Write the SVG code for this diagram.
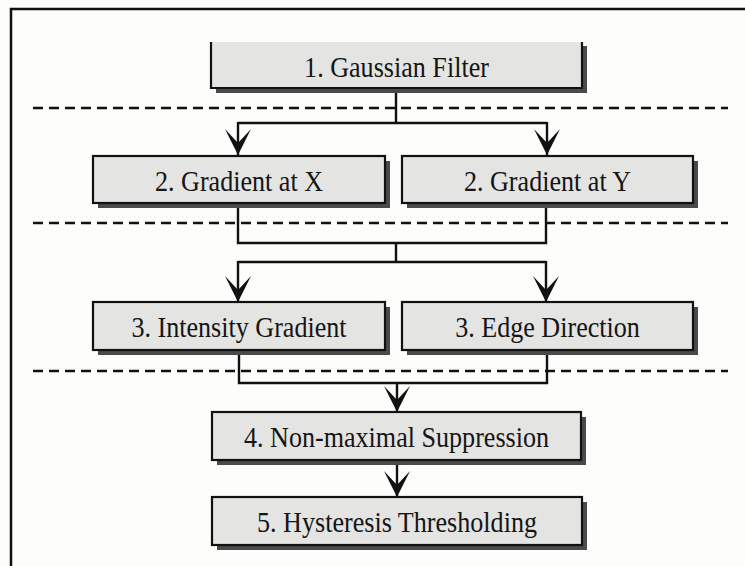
<svg xmlns="http://www.w3.org/2000/svg" width="745" height="566" viewBox="0 0 745 566">
  <style>
    .bg { fill: #fdfdfb; }
    .frame { fill: none; stroke: #111; stroke-width: 2.5; }
    .shadow { fill: #4a4a4a; }
    .box { fill: #e4e4e2; stroke: #111; stroke-width: 2.2; }
    .label { font-family: "Liberation Serif", "Times New Roman", serif; font-size: 29px; fill: #151515; text-anchor: middle; }
    .sep { fill: none; stroke: #111; stroke-width: 2.5; stroke-dasharray: 10 6; }
    .wire { fill: none; stroke: #111; stroke-width: 2.4; }
    .arrow { fill: none; stroke: #111; stroke-width: 2.4; marker-end: url(#head); }
  </style>
  <defs>
    <marker id="head" markerUnits="userSpaceOnUse" viewBox="-27 -15 28 30" markerWidth="28" markerHeight="30" refX="0" refY="0" orient="auto">
      <path d="M0,0 L-26,-13 L-12,0 L-26,13 Z" fill="#111"/>
    </marker>
  </defs>

  <rect class="bg" x="0" y="0" width="745" height="566"/>
  <!-- outer frame: top and left edges -->
  <path class="frame" d="M11,566 V9 H745"/>

  <!-- stage separators -->
  <g id="separators">
    <line class="sep" x1="33" y1="108" x2="728" y2="108"/>
    <line class="sep" x1="33" y1="223" x2="728" y2="223"/>
    <line class="sep" x1="33" y1="371" x2="728" y2="371"/>
  </g>

  <g id="connectors">
    <!-- filter to both gradients -->
    <path class="wire" d="M396,88 V123 M238,123 H547"/>
    <path class="arrow" d="M238,122 V155"/>
    <path class="arrow" d="M547,122 V155"/>
    <!-- gradients merge then split -->
    <path class="wire" d="M238,203 V243 H546 V203 M396,243 V262 M238,262 H546"/>
    <path class="arrow" d="M238,261 V302"/>
    <path class="arrow" d="M546,261 V302"/>
    <!-- magnitude and direction merge into suppression -->
    <path class="wire" d="M239,350 V383 H547 V350"/>
    <path class="arrow" d="M397,383 V412"/>
    <!-- suppression to thresholding -->
    <path class="arrow" d="M397,460 V497"/>
  </g>

  <g id="gaussian-filter">
    <rect class="shadow" x="216" y="46" width="371" height="47"/>
    <rect x="211" y="42" width="371" height="46" fill="#e4e4e2"/>
    <path d="M211,42 V88 H582 V42" fill="none" stroke="#111" stroke-width="2.2"/>
    <text class="label" transform="translate(396.5 77) scale(0.9 1)">1. Gaussian Filter</text>
  </g>

  <g id="gradient-x">
    <rect class="shadow" x="98" y="161" width="292" height="47"/>
    <rect class="box" x="93" y="156" width="292" height="47"/>
    <text class="label" transform="translate(239 191) scale(0.9 1)">2. Gradient at X</text>
  </g>

  <g id="gradient-y">
    <rect class="shadow" x="407" y="161" width="291" height="47"/>
    <rect class="box" x="402" y="156" width="291" height="47"/>
    <text class="label" transform="translate(547.5 191) scale(0.9 1)">2. Gradient at Y</text>
  </g>

  <g id="intensity-gradient">
    <rect class="shadow" x="98" y="307" width="292" height="48"/>
    <rect class="box" x="93" y="302" width="292" height="48"/>
    <text class="label" transform="translate(239 337) scale(0.9 1)">3. Intensity Gradient</text>
  </g>

  <g id="edge-direction">
    <rect class="shadow" x="407" y="307" width="291" height="48"/>
    <rect class="box" x="402" y="302" width="291" height="48"/>
    <text class="label" transform="translate(547.5 337) scale(0.9 1)">3. Edge Direction</text>
  </g>

  <g id="non-maximal-suppression">
    <rect class="shadow" x="217" y="417" width="369" height="48"/>
    <rect class="box" x="212" y="412" width="369" height="48"/>
    <text class="label" transform="translate(396.5 447) scale(0.9 1)">4. Non-maximal Suppression</text>
  </g>

  <g id="hysteresis-thresholding">
    <rect class="shadow" x="217" y="502" width="370" height="48"/>
    <rect class="box" x="212" y="497" width="370" height="48"/>
    <text class="label" transform="translate(397 532) scale(0.9 1)">5. Hysteresis Thresholding</text>
  </g>
</svg>
